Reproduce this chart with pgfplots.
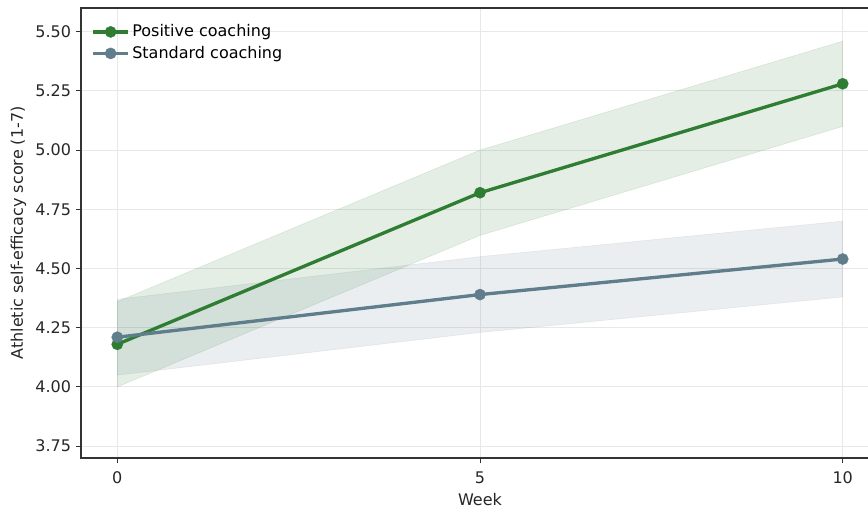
\documentclass[border=0pt]{standalone}
\usepackage{pgfplots}
\pgfplotsset{compat=1.18}
\usepackage{fontspec}
\setmainfont{DejaVu Sans}
\definecolor{posgreen}{HTML}{2E7D32}
\definecolor{stdslate}{HTML}{607D8B}
\definecolor{gridc}{HTML}{E8E8E8}
\begin{document}
\begin{tikzpicture}
\begin{axis}[
  scale only axis, width=598.5pt, height=337.5pt,
  xmin=-0.5, xmax=10.5, ymin=3.70, ymax=5.60,
  axis line style={draw=black!80, line width=0.9pt},
  xtick={0,5,10}, ytick={3.75,4.00,4.25,4.50,4.75,5.00,5.25,5.50},
  xtick pos=bottom, ytick pos=left,
  tick align=outside, major tick length=4pt,
  tick style={black!80, line width=0.7pt},
  yticklabel style={/pgf/number format/.cd, fixed, fixed zerofill, precision=2},
  xticklabel style={yshift=-3pt},
  /pgf/number format/assume math mode=true,
  ticklabel style={font=\fontsize{12}{14}\selectfont, text=black!85},
  label style={font=\fontsize{12}{14}\selectfont, text=black!85},
  grid=major, grid style={gridc, line width=0.7pt},
  xlabel={Week}, ylabel={Athletic self-efficacy score (1-7)},
  legend style={at={(axis description cs:0.008,0.975)}, anchor=north west, draw=none, fill=none,
    font=\fontsize{12}{14}\selectfont, row sep=1.5pt},
  legend cell align=left,
  legend image code/.code={\draw[#1] (0pt,0pt) -- (26pt,0pt); \draw[#1, mark repeat=2, mark phase=2] plot coordinates {(0pt,0pt) (13pt,0pt) (26pt,0pt)};},
]
\addplot[forget plot, fill=posgreen, fill opacity=0.13, draw=posgreen, draw opacity=0.15]
  coordinates {(0,4.00) (5,4.64) (10,5.10) (10,5.46) (5,5.00) (0,4.36)} -- cycle;
\addplot[forget plot, fill=stdslate, fill opacity=0.13, draw=stdslate, draw opacity=0.15]
  coordinates {(0,4.05) (5,4.23) (10,4.38) (10,4.70) (5,4.55) (0,4.37)} -- cycle;
\addplot[color=posgreen, line width=2.5pt, mark=*, mark size=4.2pt, mark options={solid, line width=0.3pt}]
  coordinates {(0,4.18) (5,4.82) (10,5.28)};
\addlegendentry{Positive coaching}
\addplot[color=stdslate, line width=2.5pt, mark=*, mark size=4.2pt, mark options={solid, line width=0.3pt}]
  coordinates {(0,4.21) (5,4.39) (10,4.54)};
\addlegendentry{Standard coaching}
\end{axis}
\pgfresetboundingbox
\path ([xshift=-60.75pt,yshift=-37.5pt]current axis.south west) rectangle ([xshift=-8.25pt,yshift=6pt]current axis.north east);
\end{tikzpicture}
\end{document}
